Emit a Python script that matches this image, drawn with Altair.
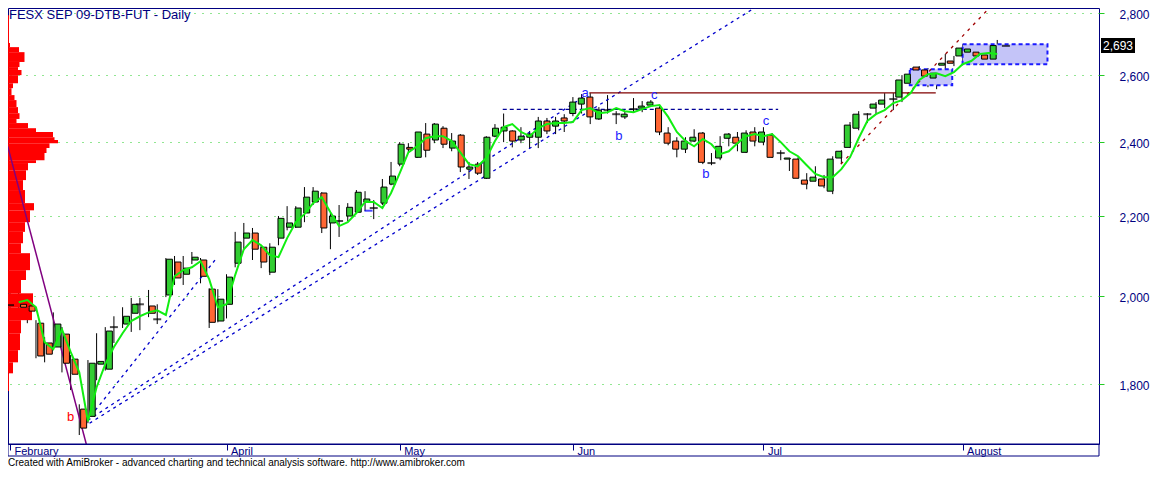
import altair as alt
import pandas as pd

# ---------------- data ----------------
opens = [1978,1980,1976,1936,1891,1882,1911,1855,1748,1733,
         1844,1833,1927,1934,1959,1980,1976,1945,2002,2082,
         2052,2087,2087,2016,1941,1980,2079,2142,2155,2119,
         2057,2142,2170,2170,2207,2236,2260,2181,2186,2199,
         2209,2236,2220,2233,2284,2339,2386,2358,2424,2407,
         2441,2384,2421,2325,2339,2300,2418,2433,2433,2407,
         2415,2415,2462,2447,2471,2484,2512,2533,2468,2494,
         2482,2474,2497,2500,2509,2500,2427,2404,2381,2404,
         2427,2342,2356,2412,2415,2372,2430,2401,2421,2370,
         2353,2353,2295,2292,2298,2265,2356,2386,2441,2482,
         2500,2512,2527,2533,2575,2625,2616,2591,2631,2644,
         2660,2672,2672,2663,2650]
highs = [2009,2038,2002,1943,1904,1961,1927,1864,1758,1853,
         1913,1927,1952,1973,1995,1995,2014,1980,2092,2097,
         2097,2107,2092,2018,2016,2052,2158,2181,2168,2124,
         2129,2199,2225,2225,2276,2276,2262,2207,2228,2233,
         2268,2265,2241,2298,2345,2401,2398,2430,2456,2456,
         2447,2427,2424,2345,2345,2418,2453,2484,2435,2444,
         2433,2474,2471,2474,2482,2533,2542,2545,2503,2539,
         2491,2491,2530,2521,2524,2506,2444,2415,2415,2438,
         2430,2370,2418,2427,2430,2435,2444,2444,2427,2378,
         2356,2358,2314,2333,2309,2361,2378,2459,2491,2485,
         2518,2545,2545,2600,2622,2628,2622,2609,2666,2660,
         2697,2697,2688,2669,2711]
lows = [1962,1968,1936,1857,1848,1878,1826,1788,1695,1719,
        1809,1830,1891,1925,1916,1920,1950,1934,1997,2026,
        2026,2077,2030,1925,1938,1947,2069,2112,2087,2067,
        2050,2124,2162,2168,2183,2228,2155,2114,2145,2186,
        2207,2212,2191,2228,2281,2333,2372,2356,2358,2398,
        2384,2375,2317,2298,2309,2298,2415,2401,2386,2398,
        2384,2384,2424,2424,2430,2476,2484,2453,2465,2484,
        2453,2468,2488,2488,2509,2421,2392,2358,2370,2401,
        2339,2336,2350,2389,2375,2370,2389,2392,2356,2350,
        2320,2300,2270,2292,2273,2257,2339,2384,2435,2456,
        2482,2500,2494,2518,2569,2594,2563,2557,2600,2628,
        2631,2634,2631,2637,2634]
closes = [1978,1973,1964,1862,1866,1934,1846,1822,1709,1846,
          1850,1918,1927,1952,1980,1980,1959,1945,2089,2043,
          2067,2094,2047,1938,1992,2045,2132,2155,2114,2082,
          2119,2193,2181,2220,2249,2265,2168,2199,2186,2222,
          2262,2244,2220,2276,2306,2395,2381,2430,2378,2453,
          2395,2404,2331,2331,2314,2415,2441,2444,2404,2418,
          2424,2462,2433,2462,2462,2518,2530,2474,2494,2494,
          2482,2482,2497,2506,2518,2430,2398,2381,2404,2415,
          2344,2342,2389,2424,2398,2427,2404,2430,2358,2370,
          2356,2300,2284,2303,2279,2353,2375,2450,2482,2482,
          2512,2524,2527,2585,2603,2616,2597,2606,2637,2637,
          2685,2682,2660,2650,2693]
# green smoothing line (bar 1 .. bar 114)
green_line = [1985,1990,1973,1893,1877,1922,1871,1826,1723,1794,
              1844,1882,1913,1941,1952,1961,1966,1955,2047,2062,
              2069,2084,2040,1973,1980,2050,2114,2137,2124,2099,
              2094,2142,2183,2204,2233,2249,2209,2173,2183,2207,
              2236,2236,2220,2260,2314,2372,2389,2412,2418,2418,
              2404,2372,2339,2333,2356,2404,2444,2453,2430,2418,
              2441,2453,2456,2456,2459,2494,2500,2485,2488,2500,
              2491,2488,2497,2506,2509,2474,2430,2404,2389,2410,
              2395,2367,2375,2398,2418,2424,2418,2424,2401,2375,
              2361,2336,2312,2303,2303,2325,2358,2412,2462,2482,
              2494,2515,2524,2545,2585,2603,2606,2597,2609,2634,
              2644,2666,2669,2666]

month_names = ["February", "April", "May", "Jun", "Jul", "August"]
month_bars = [0, 25, 45, 65, 87, 110]
price_ticks = [1800, 2000, 2200, 2400, 2600, 2800]

# volume-at-price profile
prof_hi = [2792,2701,2688,2672,2641,2625,2616,2600,2575,2560,2539,2524,2503,2485,
           2468,2456,2441,2430,2415,2407,2398,2384,2370,2350,2342,2322,2295,2268,
           2233,2214,2183,2158,2129,2104,2062,2038,2006,1973,1943,1913,1875,1848,1824]
prof_lo = prof_hi[1:] + [1786]
prof_vol = [2,4,22,33,23,20,27,20,10,7,13,17,20,23,17,40,56,90,93,100,83,77,73,56,
            40,36,30,34,52,44,34,30,26,44,36,26,50,48,26,24,20,10,2]

# trend lines (bar index, price)
tl_seg = ["purple", "purple", "S", "S", "U", "U", "L", "L", "R", "R"]
tl_bar = [-0.26, 9.3, 8.84, 23.94, 8.99, 66.2, 9.19, 87.5, 95.94, 114.0]
tl_price = [2389, 1645, 1723, 2094, 1725, 2533, 1719, 2844, 2339, 2844]
tl_style = ["purple", "purple", "blue", "blue", "blue", "blue", "blue", "blue", "red", "red"]

# horizontal levels
lvl_b0 = [56.9, 66.9]
lvl_b1 = [88.7, 106.9]
lvl_price = [2496, 2546]
lvl_kind = ["dash", "solid"]

# shaded boxes
box_b0 = [103.9, 110.0]
box_b1 = [108.8, 119.8]
box_top = [2618, 2697]
box_bot = [2569, 2634]

# wave labels
lab_text = ["a", "b", "c", "b", "c", "b"]
lab_bar = [66.4, 70.3, 74.4, 80.35, 87.3, 7.0]
lab_price = [2546, 2418, 2539, 2312, 2462, 1732]
lab_col = ["#2222ff", "#2222ff", "#2222ff", "#2222ff", "#2222ff", "#ff0000"]

# ---------------- chart ----------------
W, H = 1091, 436
NAVY = "#000080"
GRID = "#22cc22"
UP = "#32cd32"
DOWN = "#ff6633"
FONT = "Liberation Sans"

xs = alt.Scale(domain=[-0.231, 125.75], nice=False, zero=False)
ys = alt.Scale(type="log", domain=[1677, 2816], nice=False)

yaxis = alt.Axis(orient="right", values=price_ticks, format=",", grid=True,
                 gridColor=GRID, gridDash=[1, 7], gridWidth=1, domain=False,
                 tickColor=GRID, tickSize=5, labelAlign="left", labelPadding=15,
                 labelOffset=1.5, labelColor=NAVY, labelFont=FONT, labelFontSize=12,
                 labelOverlap=False, title=None)

n = len(closes)
bars = pd.DataFrame({"i": list(range(n)), "open": opens, "high": highs,
                     "low": lows, "close": closes})
bars["dir"] = ["up" if c > o else ("down" if c < o else "flat")
               for o, c in zip(opens, closes)]

ma = pd.DataFrame({"i": list(range(1, n)), "ma": green_line})
prof = pd.DataFrame({"hi": prof_hi, "lo": prof_lo, "vol": prof_vol})
tl = pd.DataFrame({"seg": tl_seg, "bar": tl_bar, "price": tl_price, "style": tl_style})
lvl = pd.DataFrame({"b0": lvl_b0, "b1": lvl_b1, "price": lvl_price, "kind": lvl_kind})
boxes = pd.DataFrame({"b0": box_b0, "b1": box_b1, "top": box_top, "bot": box_bot})
labs = pd.DataFrame({"t": lab_text, "bar": lab_bar, "price": lab_price, "col": lab_col})
last = pd.DataFrame({"close": [closes[-1]], "txt": [f"{closes[-1]:,}"]})
markers = pd.DataFrame({"bar": [41.4, 115.0], "price": [2213, 2692],
                        "col": ["#0000ff", "#000000"]})
one = pd.DataFrame({"k": [0]})

label_expr = " : ".join(f"datum.value == {b} ? '{m}'" for b, m in zip(month_bars, month_names)) + " : ''"

X = lambda f: alt.X(f, scale=xs, axis=None)
Y = lambda f: alt.Y(f, scale=ys, title=None, axis=yaxis)

# profile (own x scale)
profile = alt.Chart(prof).transform_calculate(zero="0").mark_rect(color="#ff0000").encode(
    x=alt.X("zero:Q", scale=alt.Scale(domain=[0, 2182], nice=False, zero=True), axis=None),
    x2="vol:Q",
    y=Y("hi:Q"), y2="lo:Q")

boxes_l = alt.Chart(boxes).mark_rect(fill="#c4c4f8", stroke="#1a1aff", strokeDash=[4, 3],
                                     strokeWidth=2).encode(
    x=X("b0:Q"), x2="b1:Q", y=Y("top:Q"), y2="bot:Q")

purple = alt.Chart(tl).transform_filter("datum.style == 'purple'").mark_line(
    color="#800080", strokeWidth=1.5, clip=True).encode(x=X("bar:Q"), y=Y("price:Q"), detail="seg:N")
blue = alt.Chart(tl).transform_filter("datum.style == 'blue'").mark_line(
    color="#0000cc", strokeWidth=1.3, strokeDash=[3, 4], clip=True).encode(
    x=X("bar:Q"), y=Y("price:Q"), detail="seg:N")
red = alt.Chart(tl).transform_filter("datum.style == 'red'").mark_line(
    color="#a00000", strokeWidth=1.3, strokeDash=[3, 5], clip=True).encode(
    x=X("bar:Q"), y=Y("price:Q"), detail="seg:N")

lvl_dash = alt.Chart(lvl).transform_filter("datum.kind == 'dash'").mark_rule(
    color="#000099", strokeWidth=1.2, strokeDash=[4, 3]).encode(x=X("b0:Q"), x2="b1:Q", y=Y("price:Q"))
lvl_solid = alt.Chart(lvl).transform_filter("datum.kind == 'solid'").mark_rule(
    color="#800000", strokeWidth=1.2).encode(x=X("b0:Q"), x2="b1:Q", y=Y("price:Q"))

axes = alt.Chart(bars).mark_rule(color="black", strokeWidth=1).encode(
    x=alt.X("i:Q", scale=xs, title=None,
            axis=alt.Axis(values=month_bars, labelExpr=label_expr, grid=False, domain=False,
                          ticks=True, tickColor=NAVY, tickSize=6, labelAlign="left", labelOffset=4,
                          labelPadding=4.5, labelBaseline="alphabetic", labelColor=NAVY,
                          labelFont=FONT, labelFontSize=11, labelFlush=False, labelOverlap=False)),
    y=Y("low:Q"),
    y2="high:Q")

bodies = alt.Chart(bars).transform_filter("datum.dir != 'flat'").mark_bar(
    size=6, stroke="black", strokeWidth=1).encode(
    x=X("i:Q"), y=Y("open:Q"), y2="close:Q",
    color=alt.Color("dir:N", scale=alt.Scale(domain=["up", "down"], range=[UP, DOWN]), legend=None))

dojis = alt.Chart(bars).transform_filter("datum.dir == 'flat'").mark_tick(
    orient="horizontal", size=8, thickness=2, color="black").encode(x=X("i:Q"), y=Y("close:Q"))

ma_l = alt.Chart(ma).mark_line(color="#11ee11", strokeWidth=2).encode(x=X("i:Q"), y=Y("ma:Q"))

labels = alt.Chart(labs).mark_text(fontSize=13, font=FONT).encode(
    x=X("bar:Q"), y=Y("price:Q"), text="t:N", color=alt.Color("col:N", scale=None))

marks = alt.Chart(markers).mark_tick(orient="horizontal", size=8, thickness=2).encode(
    x=X("bar:Q"), y=Y("price:Q"), color=alt.Color("col:N", scale=None))

pbox = alt.Chart(last).mark_tick(orient="horizontal", size=34, thickness=15, color="black",
                                 opacity=1).encode(x=alt.value(W + 19), y=Y("close:Q"))
ptxt = alt.Chart(last).mark_text(color="white", fontSize=12, font=FONT).encode(
    x=alt.value(W + 19), y=Y("close:Q"), text="txt:N")

strip = alt.Chart(one).mark_rect(fill="white", fillOpacity=0, stroke=NAVY, strokeWidth=1).encode(
    x=alt.value(0), x2=alt.value(W), y=alt.value(H), y2=alt.value(H + 12))

title = alt.Chart(one).mark_text(align="left", baseline="top", fontSize=13, font=FONT,
                                 color=NAVY).encode(
    x=alt.value(1), y=alt.value(1), text=alt.value("FESX SEP 09-DTB-FUT - Daily"))

footer = alt.Chart(one).mark_text(align="left", baseline="alphabetic", fontSize=10, font=FONT,
                                  color="black").encode(
    x=alt.value(0), y=alt.value(H + 22),
    text=alt.value("Created with AmiBroker - advanced charting and technical analysis software. http://www.amibroker.com"))

chart = alt.layer(
    axes, profile, boxes_l, purple, blue, red, lvl_dash, lvl_solid,
    bodies, dojis, ma_l, labels, marks, pbox, ptxt, strip, title, footer
).resolve_scale(x="independent").properties(
    width=W, height=H,
    padding={"left": 0, "top": 0, "right": 53, "bottom": 24},
    autosize=alt.AutoSizeParams(type="none"),
    background="white",
).configure_view(stroke=NAVY, strokeWidth=1)

chart.save("out.html", embed_options={"renderer": "svg", "actions": False})
